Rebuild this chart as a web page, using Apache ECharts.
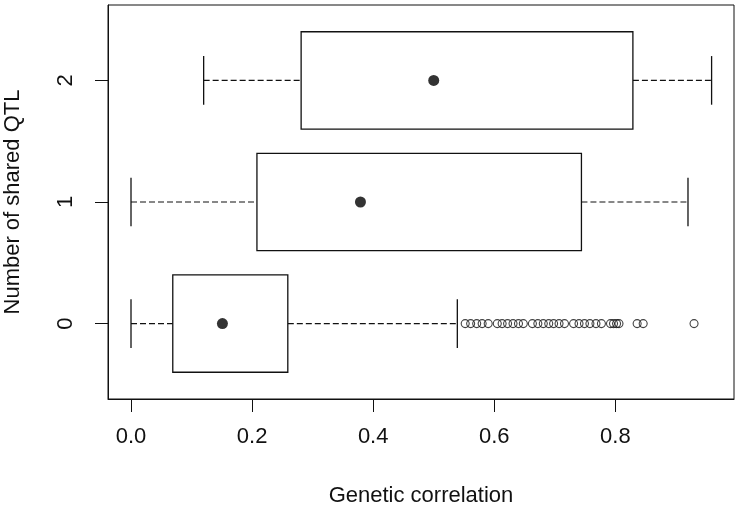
<!DOCTYPE html>
<html>
<head>
<meta charset="utf-8">
<script src="https://cdn.jsdelivr.net/npm/echarts@6/dist/echarts.min.js"></script>
<style>html,body{margin:0;padding:0;background:#fff}#c{width:738px;height:511px}</style>
</head>
<body>
<div id="c"></div>
<script>
// Data
const categories = ['0', '1', '2'];
const minVals = [0.000, 0.000, 0.120];
const q1Vals  = [0.069, 0.208, 0.281];
const medVals = [0.151, 0.379, 0.500];
const q3Vals  = [0.259, 0.744, 0.829];
const maxVals = [0.539, 0.920, 0.959];
const outliers0 = [0.552, 0.561, 0.571, 0.580, 0.590,
  0.605, 0.613, 0.622, 0.631, 0.640, 0.648,
  0.663, 0.672, 0.681, 0.690, 0.698, 0.707, 0.716,
  0.731, 0.740, 0.749, 0.758, 0.768, 0.777,
  0.792, 0.797, 0.802, 0.806,
  0.836, 0.846, 0.930];
const xTicks = [0, 0.2, 0.4, 0.6, 0.8];
const yTicks = [0, 1, 2];

const boxData = categories.map((c, i) => [i, minVals[i], q1Vals[i], medVals[i], q3Vals[i], maxVals[i]]);
const medData = categories.map((c, i) => [medVals[i], i]);
const outData = outliers0.map(v => [v, 0]);

const FONT = 'Liberation Sans, Arial, sans-serif';
const LINE = '#111';
const FS = 22;

const chart = echarts.init(document.getElementById('c'), null, {renderer: 'canvas'});
chart.setOption({
  animation: false,
  backgroundColor: '#fff',
  grid: {left: 108, right: 4, top: 5, bottom: 112, show: true, borderColor: LINE, borderWidth: 1,
    backgroundColor: 'transparent', containLabel: false, outerBoundsMode: 'none'},
  xAxis: {
    type: 'value', min: -0.038, max: 0.996,
    name: 'Genetic correlation', nameLocation: 'middle', nameGap: 86,
    nameTextStyle: {fontFamily: FONT, fontSize: FS, color: '#111'},
    axisLine: {show: true, onZero: false, lineStyle: {color: LINE}},
    axisTick: {show: true, customValues: xTicks, length: 13, inside: false, lineStyle: {color: LINE}},
    axisLabel: {customValues: xTicks, margin: 27, fontFamily: FONT, fontSize: FS, color: '#111',
      formatter: v => v.toFixed(1)},
    splitLine: {show: false}
  },
  yAxis: {
    type: 'value', min: -0.62, max: 2.62,
    name: 'Number of shared QTL', nameLocation: 'middle', nameGap: 84, nameRotate: 90,
    nameTextStyle: {fontFamily: FONT, fontSize: FS, color: '#111'},
    axisLine: {show: true, onZero: false, lineStyle: {color: LINE}},
    axisTick: {show: true, customValues: yTicks, length: 13, lineStyle: {color: LINE}},
    axisLabel: {customValues: yTicks, rotate: 90, margin: 31, fontFamily: FONT, fontSize: FS, color: '#111',
      formatter: v => categories[v]},
    splitLine: {show: false}
  },
  series: [
    {
      type: 'custom',
      data: boxData,
      encode: {x: [1, 2, 3, 4, 5], y: 0},
      renderItem: function (params, api) {
        const y = api.value(0);
        const vmin = api.value(1), q1 = api.value(2), q3 = api.value(4), vmax = api.value(5);
        const c = (v, dy) => api.coord([v, y + dy]);
        const a = c(q1, 0.4), b = c(q3, -0.4);
        const dashed = {stroke: LINE, lineWidth: 1.2, lineDash: [6, 3], fill: null};
        const solid = {stroke: LINE, lineWidth: 1.3, fill: null};
        return {
          type: 'group',
          children: [
            {type: 'line', shape: {x1: c(vmin, 0)[0], y1: c(vmin, 0)[1], x2: c(q1, 0)[0], y2: c(q1, 0)[1]}, style: dashed},
            {type: 'line', shape: {x1: c(q3, 0)[0], y1: c(q3, 0)[1], x2: c(vmax, 0)[0], y2: c(vmax, 0)[1]}, style: dashed},
            {type: 'line', shape: {x1: c(vmin, 0.2)[0], y1: c(vmin, 0.2)[1], x2: c(vmin, -0.2)[0], y2: c(vmin, -0.2)[1]}, style: solid},
            {type: 'line', shape: {x1: c(vmax, 0.2)[0], y1: c(vmax, 0.2)[1], x2: c(vmax, -0.2)[0], y2: c(vmax, -0.2)[1]}, style: solid},
            {type: 'rect', shape: {x: a[0], y: a[1], width: b[0] - a[0], height: b[1] - a[1]}, style: {stroke: LINE, lineWidth: 1.3, fill: '#fff'}}
          ]
        };
      }
    },
    {
      type: 'scatter', data: medData, symbol: 'circle', symbolSize: 11,
      itemStyle: {color: '#000'}, z: 5
    },
    {
      type: 'scatter', data: outData, symbol: 'circle', symbolSize: 8,
      itemStyle: {color: 'transparent', borderColor: LINE, borderWidth: 1.1}, z: 5
    }
  ]
});
</script>
</body>
</html>
